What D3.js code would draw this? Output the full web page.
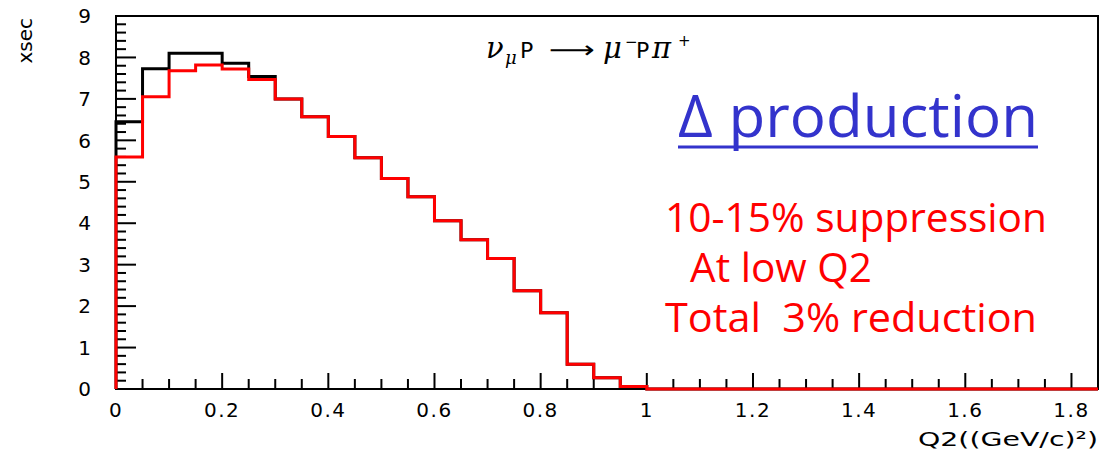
<!DOCTYPE html>
<html><head><meta charset="utf-8">
<script src="https://cdn.jsdelivr.net/npm/d3@7"></script>
<style>html,body{margin:0;padding:0;background:#fff;}svg{display:block;}</style>
</head><body>
<script>
// Q2 bin edges start at 0, width 0.05, up to 1.85
const binWidth = 0.05;
const binStarts = [0.00,0.05,0.10,0.15,0.20,0.25,0.30,0.35,0.40,0.45,0.50,0.55,0.60,0.65,0.70,0.75,0.80,0.85,0.90,0.95,
                   1.00,1.05,1.10,1.15,1.20,1.25,1.30,1.35,1.40,1.45,1.50,1.55,1.60,1.65,1.70,1.75,1.80];
const blackValues = [6.45,7.73,8.10,8.10,7.86,7.54,7.00,6.57,6.09,5.58,5.08,4.64,4.06,3.60,3.15,2.37,1.84,0.60,0.27,0.06,
                     0,0,0,0,0,0,0,0,0,0,0,0,0,0,0,0,0];
const redValues   = [5.60,7.05,7.68,7.82,7.72,7.47,7.00,6.57,6.09,5.58,5.08,4.64,4.06,3.60,3.15,2.37,1.84,0.60,0.27,0.06,
                     0,0,0,0,0,0,0,0,0,0,0,0,0,0,0,0,0];
const xTickValues = [0,0.2,0.4,0.6,0.8,1,1.2,1.4,1.6,1.8];
const xTickLabels = ["0","0.2","0.4","0.6","0.8","1","1.2","1.4","1.6","1.8"];
const yTickValues = [0,1,2,3,4,5,6,7,8,9];
const yTickLabels = ["0","1","2","3","4","5","6","7","8","9"];
const xMinorTicks = d3.range(0, 1.851, 0.05);
const yMinorTicks = d3.range(0, 9.001, 0.2);

const W = 1110, H = 452;
const svg = d3.select("body").append("svg").attr("width", W).attr("height", H);

const x = d3.scaleLinear().domain([0, 1.85]).range([116, 1098]);
const y = d3.scaleLinear().domain([0, 9]).range([389, 16]);
const axisFont = "DejaVu Sans, Liberation Sans, sans-serif";

// frame
svg.append("rect").attr("x", x(0)).attr("y", y(9)).attr("width", x(1.85) - x(0)).attr("height", y(0) - y(9))
  .attr("fill", "none").attr("stroke", "#000").attr("stroke-width", 2);

// y ticks (inside, pointing right)
svg.append("g").selectAll("line").data(yMinorTicks).join("line")
  .attr("x1", x(0)).attr("x2", d => x(0) + (Math.abs(d - Math.round(d)) < 1e-6 ? 20 : 10))
  .attr("y1", d => y(d)).attr("y2", d => y(d))
  .attr("stroke", "#000").attr("stroke-width", 2);
// x ticks (inside, pointing up)
svg.append("g").selectAll("line").data(xMinorTicks).join("line")
  .attr("y1", y(0)).attr("y2", d => y(0) - (Math.abs(d * 5 - Math.round(d * 5)) < 1e-6 ? 16 : 10))
  .attr("x1", d => x(d)).attr("x2", d => x(d))
  .attr("stroke", "#000").attr("stroke-width", 2);

// tick labels
svg.append("g").selectAll("text").data(yTickValues).join("text")
  .attr("x", 91).attr("y", d => y(d)).attr("dy", "0.36em")
  .attr("text-anchor", "end").attr("font-family", axisFont).attr("font-size", 20)
  .text((d, i) => yTickLabels[i]);
svg.append("g").selectAll("text").data(xTickValues).join("text")
  .attr("x", d => x(d)).attr("y", 417)
  .attr("text-anchor", "middle").attr("font-family", axisFont).attr("font-size", 20)
  .attr("letter-spacing", 1.5)
  .text((d, i) => xTickLabels[i]);

// axis titles
svg.append("text").attr("transform", "translate(32,18) rotate(-90)")
  .attr("text-anchor", "end").attr("font-family", axisFont).attr("font-size", 20)
  .text("xsec");
svg.append("text").attr("x", 918).attr("y", 446)
  .attr("font-family", axisFont).attr("font-size", 20)
  .attr("textLength", 180).attr("lengthAdjust", "spacingAndGlyphs")
  .text("Q2((GeV/c)²)");

// histograms
function histPoints(vals) {
  const pts = [[binStarts[0], 0]];
  vals.forEach((v, i) => { pts.push([binStarts[i], v]); pts.push([binStarts[i] + binWidth, v]); });
  pts.push([binStarts[binStarts.length - 1] + binWidth, 0]);
  return pts;
}
const line = d3.line().x(d => x(d[0])).y(d => y(d[1]));
svg.append("path").attr("d", line(histPoints(blackValues))).attr("fill", "none")
  .attr("stroke", "#000").attr("stroke-width", 3).attr("stroke-linejoin", "miter");
svg.append("path").attr("d", line(histPoints(redValues))).attr("fill", "none")
  .attr("stroke", "#ff0000").attr("stroke-width", 3).attr("stroke-linejoin", "miter");

// reaction formula: pieces [text, x, baseline, size, font, italic]
const greek = "DejaVu Serif, Liberation Serif, serif";
const formula = [
  ["ν", 486, 58, 29, greek, true],
  ["μ", 505, 64, 18, greek, true],
  ["P", 520, 58, 22, axisFont, false],
  ["μ", 603, 58, 29, greek, true],
  ["−", 625, 47, 15, axisFont, false],
  ["P", 636, 58, 22, axisFont, false],
  ["π", 652, 58, 29, greek, true],
  ["+", 678, 46, 15, axisFont, false]
];
svg.append("g").selectAll("text").data(formula).join("text")
  .attr("x", d => d[1]).attr("y", d => d[2]).attr("font-size", d => d[3]).attr("font-family", d => d[4])
  .attr("font-style", d => d[5] ? "italic" : "normal")
  .text(d => d[0]);
svg.append("text").attr("x", 549).attr("y", 58).attr("font-size", 24).attr("font-family", axisFont)
  .attr("textLength", 46).attr("lengthAdjust", "spacingAndGlyphs").text("⟶");

// Delta production
svg.append("text").attr("x", 678).attr("y", 137).attr("font-family", "Open Sans, sans-serif")
  .attr("font-size", 59).attr("fill", "#3333cc")
  .attr("textLength", 360).attr("lengthAdjust", "spacingAndGlyphs")
  .text("Δ production");
svg.append("line").attr("x1", 678).attr("x2", 1038).attr("y1", 147).attr("y2", 147)
  .attr("stroke", "#3333cc").attr("stroke-width", 3);

// red notes
const notes = [["10-15% suppression", 665, 232, 382], ["At low Q2", 690, 282, 182], ["Total  3% reduction", 665, 332, 372]];
svg.append("g").selectAll("text").data(notes).join("text")
  .attr("x", d => d[1]).attr("y", d => d[2]).attr("font-family", "Open Sans, sans-serif")
  .attr("font-size", 40).attr("fill", "#ff0000").attr("xml:space", "preserve").style("white-space", "pre")
  .attr("textLength", d => d[3]).attr("lengthAdjust", "spacingAndGlyphs")
  .text(d => d[0]);
</script>
</body></html>
